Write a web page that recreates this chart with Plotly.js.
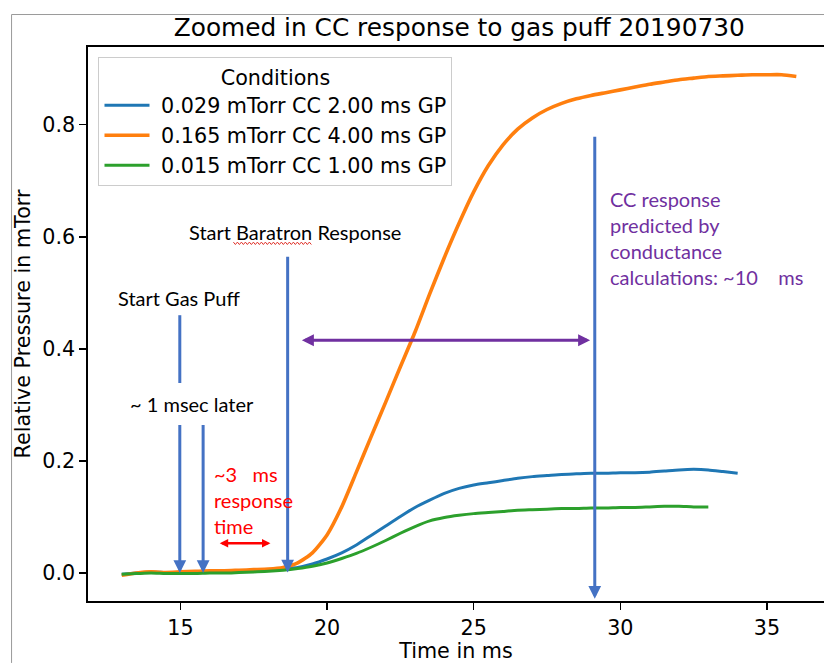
<!DOCTYPE html>
<html>
<head>
<meta charset="utf-8">
<script src="https://cdn.plot.ly/plotly-3.0.1.min.js"></script>
<style>html,body{margin:0;padding:0;background:#fff;overflow:hidden}</style>
</head>
<body>
<div id="chart" style="width:824px;height:663px"></div>
<script>
// ---- data ----
const seriesNames = ["0.029 mTorr CC 2.00 ms GP", "0.165 mTorr CC 4.00 ms GP", "0.015 mTorr CC 1.00 ms GP"];

const blueX = [13,13.5,14,14.5,15,15.5,16,16.5,17,17.5,18,18.5,19,19.5,20,20.5,21,21.5,22,22.5,23,23.5,24,24.5,25,25.5,26,26.5,27,27.5,28,28.5,29,29.5,30,30.5,31,31.5,32,32.5,33,33.5,34];
const blueY = [-0.002,0.000,0.002,0.001,0.001,0.002,0.002,0.003,0.004,0.005,0.006,0.008,0.010,0.016,0.025,0.036,0.050,0.067,0.084,0.101,0.117,0.130,0.142,0.151,0.157,0.161,0.165,0.169,0.172,0.174,0.176,0.177,0.178,0.178,0.179,0.179,0.180,0.182,0.184,0.185,0.184,0.181,0.178];

const orangeX = [13,13.5,14,14.5,15,15.5,16,16.5,17,17.5,18,18.5,19,19.5,20,20.5,21,21.5,22,22.5,23,23.5,24,24.5,25,25.5,26,26.5,27,27.5,28,28.5,29,29.5,30,30.5,31,31.5,32,32.5,33,33.5,34,34.5,35,35.5,36];
const orangeY = [-0.004,0.000,0.002,0.001,0.002,0.003,0.004,0.004,0.005,0.006,0.007,0.010,0.018,0.036,0.068,0.118,0.180,0.243,0.305,0.368,0.430,0.498,0.563,0.624,0.680,0.727,0.764,0.792,0.812,0.827,0.838,0.846,0.852,0.857,0.862,0.867,0.872,0.876,0.880,0.883,0.886,0.887,0.888,0.889,0.889,0.889,0.886];

const greenX = [13,13.5,14,14.5,15,15.5,16,16.5,17,17.5,18,18.5,19,19.5,20,20.5,21,21.5,22,22.5,23,23.5,24,24.5,25,25.5,26,26.5,27,27.5,28,28.5,29,29.5,30,30.5,31,31.5,32,32.5,33];
const greenY = [-0.002,-0.001,0.000,-0.001,-0.001,-0.001,0.000,0.000,0.001,0.002,0.003,0.005,0.008,0.012,0.018,0.026,0.035,0.046,0.058,0.071,0.083,0.093,0.099,0.103,0.106,0.108,0.110,0.112,0.113,0.114,0.115,0.115,0.116,0.116,0.117,0.117,0.118,0.119,0.119,0.118,0.118];

const xTicks = [15,20,25,30,35];
const yTicks = [0.0,0.2,0.4,0.6,0.8];

// ---- layout constants ----
const W = 824, H = 663;
const ML = 87.5, MR = 0, MT = 46.5, MB = 62;
const PW = W - ML - MR, PH = H - MT - MB;
const px2paperX = p => (p - ML) / PW;
const py2paperY = p => (H - MB - p) / PH;

const dv = 'DejaVu Sans';
const fontAxis = {family: dv, size: 20.7, color: '#000'};
const fontNote = {family: 'Lato', size: 20, color: '#000'};
const arrowBlue = '#4472C4';
const pad = '\u00a0';

const traces = [
  {x: blueX, y: blueY, name: pad + seriesNames[0], mode: 'lines', line: {color: '#1f77b4', width: 3, shape: 'spline', smoothing: 0.6}},
  {x: orangeX, y: orangeY, name: pad + seriesNames[1], mode: 'lines', line: {color: '#ff7f0e', width: 3.6, shape: 'spline', smoothing: 0.6}},
  {x: greenX, y: greenY, name: pad + seriesNames[2], mode: 'lines', line: {color: '#2ca02c', width: 3, shape: 'spline', smoothing: 0.6}}
];

function arrow(x, y, ax, ay, color, width, size, both) {
  const a = {x: x, y: y, ax: ax, ay: ay, xref: 'x', yref: 'y', axref: 'x', ayref: 'y',
    text: '', showarrow: true, arrowhead: 2, arrowsize: size, arrowwidth: width, arrowcolor: color,
    standoff: 0, startstandoff: 0};
  if (both) { a.arrowside = 'end+start'; a.startarrowhead = 2; a.startarrowsize = size; }
  return a;
}
function note(text, x, y, font) {
  return {x: x, y: y, xref: 'x', yref: 'y', text: text, showarrow: false,
    xanchor: 'left', yanchor: 'middle', align: 'left', font: font};
}

const annotations = [
  arrow(14.98, 0.0, 14.98, 0.267, arrowBlue, 3, 0.85),
  arrow(15.775, 0.0, 15.775, 0.267, arrowBlue, 3, 0.85),
  arrow(18.657, 0.001, 18.657, 0.567, arrowBlue, 3, 0.85),
  arrow(29.128, -0.046, 29.128, 0.781, arrowBlue, 3, 0.85),
  arrow(28.97, 0.4153, 19.09, 0.4153, '#7030A0', 3, 0.8, true),
  arrow(18.07, 0.053, 16.29, 0.053, '#FF0000', 2.6, 0.65, true),
  note('Start Gas Puff', 12.82, 0.490, fontNote),
  note('~ 1 msec later', 13.23, 0.301, fontNote),
  note('Start Baratron Response', 15.24, 0.608, fontNote),
  note('~3\u00a0\u00a0\u00a0ms<br>response<br>time', 16.09, 0.130, {family: 'Lato', size: 20, color: '#FF0000'}),
  note('CC response<br>predicted by<br>conductance<br>calculations: ~10\u00a0\u00a0\u00a0\u00a0ms', 29.58, 0.598, {family: 'Lato', size: 20, color: '#7030A0'})
];

// red spell-check squiggle under "Baratron"
let sq = '';
for (let i = 0, p = 233; p <= 312; p += 2, i++) {
  const yy = 243 + (i % 2 === 0 ? -1.2 : 1.2);
  sq += (i === 0 ? 'M' : 'L') + px2paperX(p).toFixed(5) + ',' + py2paperY(yy).toFixed(5) + ' ';
}

const shapes = [
  {type: 'line', xref: 'x', yref: 'y', x0: 14.98, x1: 14.98, y0: 0.339, y1: 0.46, line: {color: arrowBlue, width: 3}},
  {type: 'line', xref: 'paper', yref: 'paper', x0: px2paperX(11), x1: px2paperX(11), y0: py2paperY(14), y1: py2paperY(663), line: {color: '#9a9a9a', width: 1}},
  {type: 'line', xref: 'paper', yref: 'paper', x0: px2paperX(11), x1: px2paperX(824), y0: py2paperY(14), y1: py2paperY(14), line: {color: '#9a9a9a', width: 1}},
  {type: 'path', xref: 'paper', yref: 'paper', path: sq, line: {color: '#e0322a', width: 1}}
];

const layout = {
  width: W, height: H,
  margin: {l: ML, r: MR, t: MT, b: MB, pad: 0},
  paper_bgcolor: '#fff', plot_bgcolor: '#fff',
  showlegend: true,
  title: {text: 'Zoomed in CC response to gas puff 20190730', font: {family: dv, size: 24.8, color: '#000'},
    xref: 'paper', x: px2paperX(459), xanchor: 'center', yref: 'container', y: 1 - 27 / H, yanchor: 'middle'},
  xaxis: {range: [11.85, 11.85 + PW / 29.35], tickvals: xTicks, ticktext: xTicks.map(String), ticks: 'outside', ticklen: 7, tickwidth: 1.6, tickcolor: '#000',
    ticklabelstandoff: 1,
    showline: true, linecolor: '#000', linewidth: 1.6, mirror: true, showgrid: false, zeroline: false,
    tickfont: fontAxis, title: {text: 'Time in ms', font: fontAxis, standoff: 3}},
  yaxis: {range: [-0.0499, 0.9385], tickvals: yTicks, tickformat: '.1f', ticks: 'outside', ticklen: 7, tickwidth: 1.6, tickcolor: '#000',
    showline: true, linecolor: '#000', linewidth: 1.6, mirror: false, showgrid: false, zeroline: false,
    tickfont: fontAxis, title: {text: 'Relative Pressure in mTorr', font: fontAxis, standoff: 6}},
  legend: {x: px2paperX(98), y: py2paperY(57), xanchor: 'left', yanchor: 'top',
    bgcolor: 'rgba(255,255,255,0.85)', bordercolor: '#cccccc', borderwidth: 1, font: fontAxis,
    itemwidth: 45,
    title: {text: 'Conditions', side: 'top center', font: fontAxis}},
  annotations: annotations,
  shapes: shapes
};

Plotly.newPlot('chart', traces, layout, {displayModeBar: false, staticPlot: true});
</script>
</body>
</html>
